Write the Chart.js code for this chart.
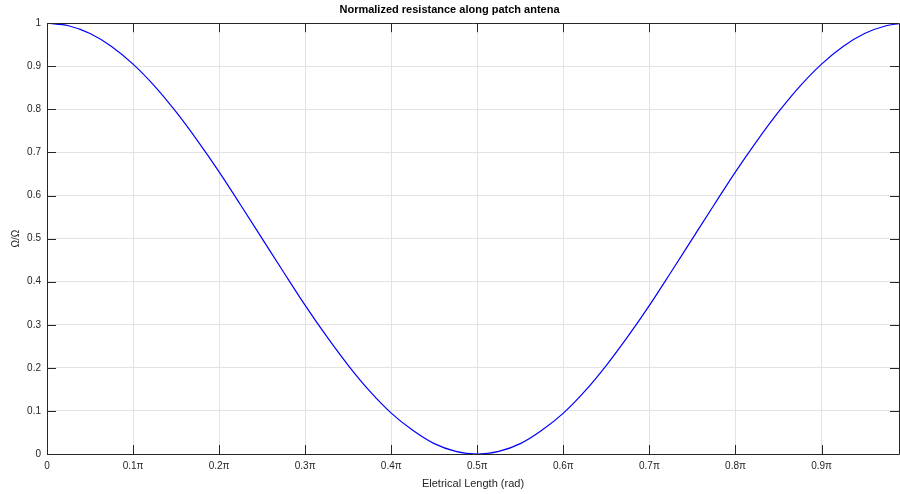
<!DOCTYPE html>
<html>
<head>
<meta charset="utf-8">
<script src="https://cdn.jsdelivr.net/npm/chart.js@4"></script>
<style>
  html, body { margin: 0; padding: 0; background: #fff; }
  #wrap { width: 900px; height: 494px; }
</style>
</head>
<body>
<div id="wrap"><canvas id="chart" width="900" height="494"></canvas></div>
<script>
// electrical length, in multiples of pi
const lengthPi = [0, 0.025, 0.05, 0.075, 0.1, 0.125, 0.15, 0.175, 0.2, 0.225, 0.25, 0.275, 0.3, 0.325, 0.35, 0.375, 0.4, 0.425, 0.45, 0.475,
                  0.5, 0.525, 0.55, 0.575, 0.6, 0.625, 0.65, 0.675, 0.7, 0.725, 0.75, 0.775, 0.8, 0.825, 0.85, 0.875, 0.9, 0.925, 0.95, 0.975, 0.99];
// normalized resistance
const resistance = [1, 0.994, 0.976, 0.946, 0.905, 0.854, 0.794, 0.727, 0.655, 0.578, 0.5, 0.422, 0.345, 0.273, 0.206, 0.146, 0.095, 0.055, 0.024, 0.006,
                    0, 0.006, 0.024, 0.055, 0.095, 0.146, 0.206, 0.273, 0.345, 0.422, 0.5, 0.578, 0.655, 0.727, 0.794, 0.854, 0.905, 0.946, 0.976, 0.994, 0.999];
const xTicks = [0, 0.1, 0.2, 0.3, 0.4, 0.5, 0.6, 0.7, 0.8, 0.9];
const yTicks = [0, 0.1, 0.2, 0.3, 0.4, 0.5, 0.6, 0.7, 0.8, 0.9, 1];

const AXIS_COLOR = '#262626';
const FONT = 'Liberation Sans, Arial, Helvetica, sans-serif';

// box around the plot and inward tick marks, matlab style
const boxPlugin = {
  id: 'boxTicks',
  afterDraw(chart) {
    const { ctx, chartArea: a, scales: { x, y } } = chart;
    const len = 9;
    ctx.save();
    ctx.strokeStyle = AXIS_COLOR;
    ctx.lineWidth = 1;
    ctx.beginPath();
    ctx.rect(Math.round(a.left) + 0.5, Math.round(a.top) + 0.5, Math.round(a.right - a.left), Math.round(a.bottom - a.top));
    ctx.stroke();

    ctx.beginPath();
    xTicks.forEach(v => {
      const px = Math.round(x.getPixelForValue(v)) + 0.5;
      ctx.moveTo(px, a.bottom); ctx.lineTo(px, a.bottom - len);
      ctx.moveTo(px, a.top); ctx.lineTo(px, a.top + len);
    });
    yTicks.forEach(v => {
      const py = Math.round(y.getPixelForValue(v)) + 0.5;
      ctx.moveTo(a.left, py); ctx.lineTo(a.left + len, py);
      ctx.moveTo(a.right, py); ctx.lineTo(a.right - len, py);
    });
    ctx.stroke();
    ctx.restore();
  }
};

new Chart(document.getElementById('chart'), {
  type: 'line',
  data: {
    datasets: [{
      data: lengthPi.map((v, i) => ({ x: v, y: resistance[i] })),
      borderColor: '#0000ff',
      borderWidth: 1.2,
      pointRadius: 0,
      cubicInterpolationMode: 'monotone',
      fill: false
    }]
  },
  options: {
    responsive: false,
    animation: false,
    layout: { padding: { left: 0, right: 1, top: 0, bottom: 0 } },
    plugins: {
      legend: { display: false },
      tooltip: { enabled: false },
      title: {
        display: true,
        text: 'Normalized resistance along patch antena',
        color: '#000',
        font: { family: FONT, size: 11, weight: 'bold' },
        padding: { top: 3, bottom: 7 }
      }
    },
    scales: {
      x: {
        type: 'linear',
        min: 0,
        max: 0.99,
        afterFit(scale) { scale.height = 40; },
        ticks: {
          stepSize: 0.1,
          includeBounds: false,
          color: AXIS_COLOR,
          padding: 6,
          maxRotation: 0,
          font: { family: FONT, size: 10 },
          callback: v => (Math.abs(v) < 1e-9 ? '0' : v.toFixed(1) + 'π')
        },
        grid: { color: '#e3e3e3', drawTicks: false },
        border: { display: false },
        title: {
          display: true,
          text: 'Eletrical Length (rad)',
          color: AXIS_COLOR,
          font: { family: FONT, size: 11 },
          padding: { top: 0, bottom: 3 }
        }
      },
      y: {
        min: 0,
        max: 1,
        afterFit(scale) { scale.width = 47; },
        ticks: {
          stepSize: 0.1,
          color: AXIS_COLOR,
          padding: 6,
          font: { family: FONT, size: 10 },
          callback: v => String(Math.round(v * 10) / 10)
        },
        grid: { color: '#e3e3e3', drawTicks: false },
        border: { display: false },
        title: {
          display: true,
          text: 'Ω/Ω',
          color: AXIS_COLOR,
          font: { family: FONT, size: 10 },
          padding: { top: 10, bottom: 0 }
        }
      }
    }
  },
  plugins: [boxPlugin]
});
</script>
</body>
</html>
